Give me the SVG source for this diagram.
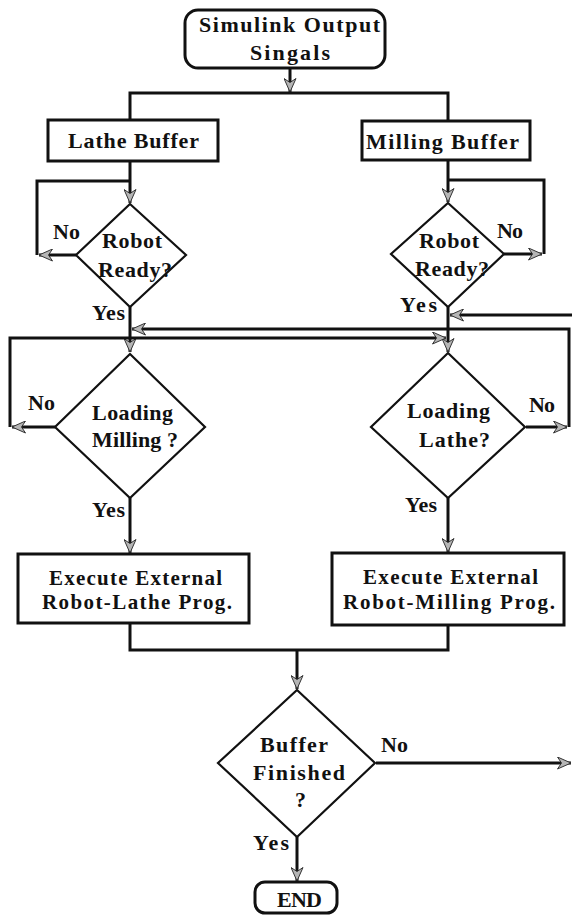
<svg xmlns="http://www.w3.org/2000/svg" width="572" height="917" viewBox="0 0 572 917">
  <style>
    .box { fill: #fff; stroke: #111; stroke-width: 3; }
    .dia { fill: #fff; stroke: #111; stroke-width: 2.2; }
    .ln { fill: none; stroke: #111; stroke-width: 3; }
    .arr { fill: none; stroke: #111; stroke-width: 3; marker-end: url(#ah); }
    text { font-family: "Liberation Serif", "Times New Roman", serif; font-weight: bold; font-size: 22px; fill: #111; }
    .sm { font-size: 21px; }
  </style>
  <defs>
    <marker id="ah" markerUnits="userSpaceOnUse" viewBox="0 0 15 13" refX="14" refY="6.5" markerWidth="15" markerHeight="13" orient="auto">
      <path d="M0.5,0.5 L14,6.5 L0.5,12.5 L4.5,6.5 z" fill="#b5b5b5" stroke="#333" stroke-width="1"/>
    </marker>
  </defs>

  <!-- connectors -->
  <g id="connectors">
    <path class="arr" d="M290,68 V92"/>
    <path class="ln" d="M130,120 V93 H448 V121"/>
    <!-- lathe branch -->
    <path class="arr" d="M76,255 H39"/>
    <path class="arr" d="M130,161 V203"/>
    <path class="ln" d="M37,255 V181 H130"/>
    <path class="arr" d="M130,307 V352"/>
    <!-- milling branch -->
    <path class="arr" d="M448,160 V202"/>
    <path class="arr" d="M504,254 H542"/>
    <path class="ln" d="M544,254 V180 H448"/>
    <path class="arr" d="M448,307 V352"/>
    <!-- cross-over loops -->
    <path class="arr" d="M572,315 H450"/>
    <path class="arr" d="M526,427 H567"/>
    <path class="arr" d="M569,427 V329 H132"/>
    <path class="arr" d="M55,427 H12"/>
    <path class="arr" d="M10,427 V338 H446"/>
    <!-- yes paths to execution -->
    <path class="arr" d="M130,498 V553"/>
    <path class="arr" d="M448,498 V552"/>
    <!-- merge -->
    <path class="ln" d="M130,623 V650 H448 V625"/>
    <path class="arr" d="M297,650 V689"/>
    <path class="arr" d="M376,763 H571"/>
    <path class="arr" d="M297,837 V881"/>
  </g>

  <g id="start">
    <rect class="box" x="185" y="10" width="200" height="58" rx="13"/>
    <text x="199" y="32" textLength="181" lengthAdjust="spacing">Simulink Output</text>
    <text x="250" y="60" textLength="80" lengthAdjust="spacing">Singals</text>
  </g>

  <g id="lathe-buffer">
    <rect class="box" x="48" y="120" width="170" height="41"/>
    <text x="68" y="148" textLength="131" lengthAdjust="spacing">Lathe Buffer</text>
  </g>

  <g id="milling-buffer">
    <rect class="box" x="362" y="121" width="168" height="39"/>
    <text x="366" y="149" textLength="153" lengthAdjust="spacing">Milling Buffer</text>
  </g>

  <g id="robot-ready-lathe">
    <polygon class="dia" points="130,204 186,255 130,307 76,255"/>
    <text x="102" y="248" textLength="60" lengthAdjust="spacing">Robot</text>
    <text x="98" y="277" textLength="74" lengthAdjust="spacing">Ready?</text>
    <text x="53" y="239" textLength="27" lengthAdjust="spacing">No</text>
    <text x="92" y="320" textLength="33" lengthAdjust="spacing">Yes</text>
  </g>

  <g id="robot-ready-milling">
    <polygon class="dia" points="448,203 504,254 448,307 391,254"/>
    <text x="419" y="248" textLength="60" lengthAdjust="spacing">Robot</text>
    <text x="415" y="276" textLength="74" lengthAdjust="spacing">Ready?</text>
    <text x="497" y="238" textLength="26" lengthAdjust="spacing">No</text>
    <text x="400" y="312" textLength="37" lengthAdjust="spacing">Yes</text>
  </g>

  <g id="loading-milling">
    <polygon class="dia" points="130,354 205,427 130,498 55,427"/>
    <text x="92" y="420" textLength="81" lengthAdjust="spacing">Loading</text>
    <text x="92" y="447" textLength="86" lengthAdjust="spacing">Milling ?</text>
    <text x="28" y="410" textLength="27" lengthAdjust="spacing">No</text>
    <text x="92" y="517" textLength="33" lengthAdjust="spacing">Yes</text>
  </g>

  <g id="loading-lathe">
    <polygon class="dia" points="448,353 525,427 448,498 371,427"/>
    <text x="407" y="418" textLength="83" lengthAdjust="spacing">Loading</text>
    <text x="419" y="447" textLength="71" lengthAdjust="spacing">Lathe?</text>
    <text x="529" y="412" textLength="26" lengthAdjust="spacing">No</text>
    <text x="405" y="512" textLength="32" lengthAdjust="spacing">Yes</text>
  </g>

  <g id="exec-lathe">
    <rect class="box" x="18" y="554" width="231" height="69"/>
    <text class="sm" x="49" y="585" textLength="173" lengthAdjust="spacing">Execute External</text>
    <text class="sm" x="42" y="609" textLength="190" lengthAdjust="spacing">Robot-Lathe Prog.</text>
  </g>

  <g id="exec-milling">
    <rect class="box" x="332" y="553" width="232" height="72"/>
    <text class="sm" x="363" y="584" textLength="175" lengthAdjust="spacing">Execute External</text>
    <text class="sm" x="343" y="609" textLength="212" lengthAdjust="spacing">Robot-Milling Prog.</text>
  </g>

  <g id="buffer-finished">
    <polygon class="dia" points="297,690 375,763 297,837 218,763"/>
    <text x="260" y="752" textLength="68" lengthAdjust="spacing">Buffer</text>
    <text x="253" y="780" textLength="92" lengthAdjust="spacing">Finished</text>
    <text x="295" y="807">?</text>
    <text x="381" y="752" textLength="27" lengthAdjust="spacing">No</text>
    <text x="253" y="850" textLength="36" lengthAdjust="spacing">Yes</text>
  </g>

  <g id="end">
    <rect class="box" x="255" y="882" width="82" height="31" rx="10"/>
    <text x="277" y="907" textLength="45" lengthAdjust="spacing">END</text>
  </g>
</svg>
